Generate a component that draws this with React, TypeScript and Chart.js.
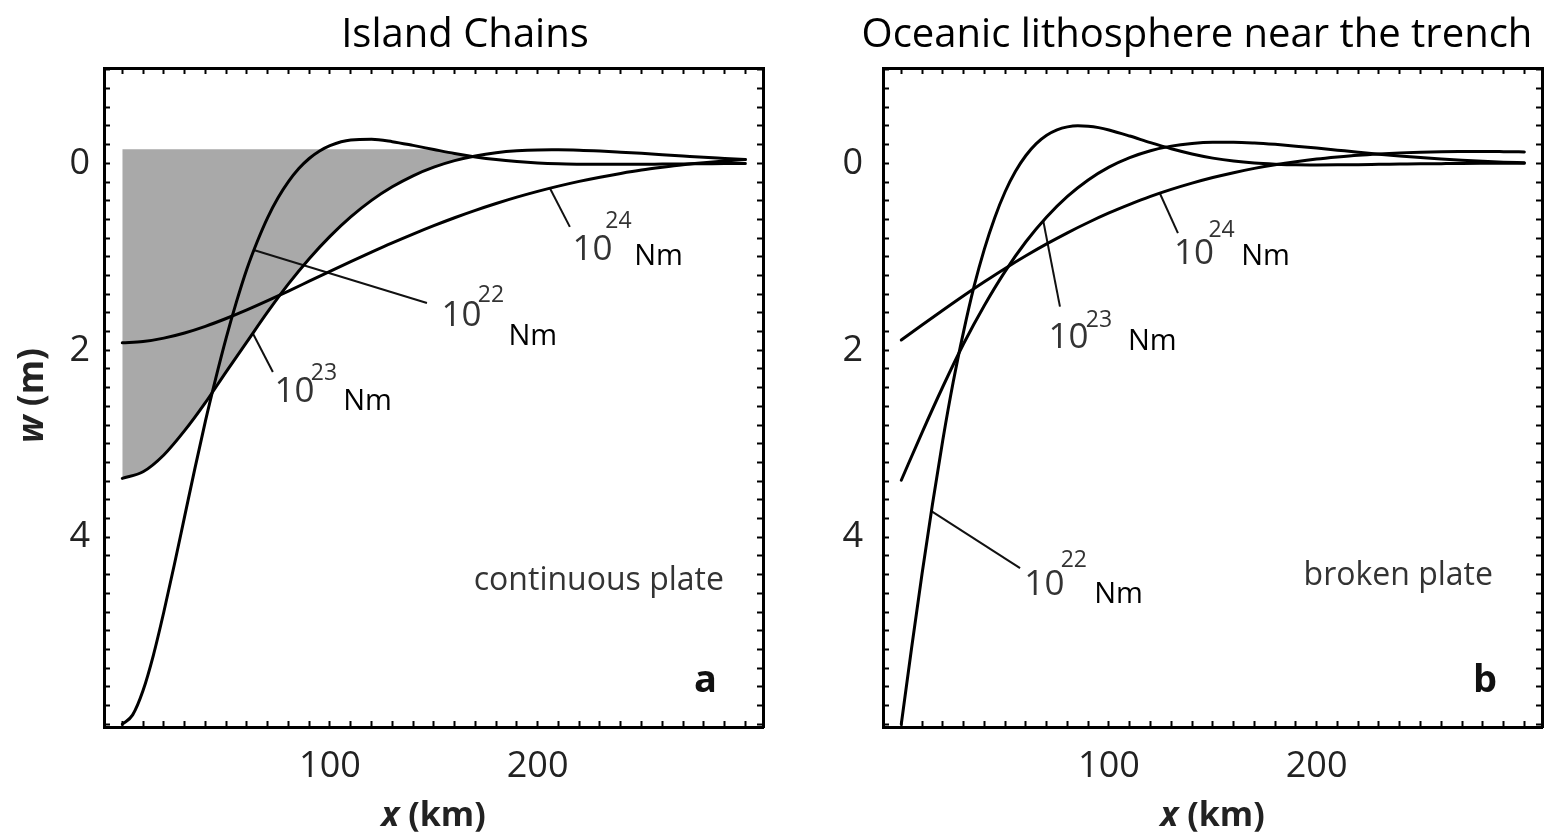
import { useEffect, useRef } from 'react';
import { Chart, registerables } from 'chart.js';

Chart.register(...registerables);

// ---------- data (x in km, w in m, positive downward) ----------
const X_FINE = [0, 5, 10, 15, 20, 25, 30, 35, 40, 45, 50, 55, 60, 65, 70, 75, 80, 85, 90, 95, 100,
  110, 120, 130, 140, 150, 160, 170, 180, 190, 200, 210, 220, 230, 240, 250, 260, 270, 280, 290, 300];
const X_STD = [0, 10, 20, 30, 40, 50, 60, 70, 80, 90, 100, 110, 120, 130, 140, 150, 160, 170, 180, 190,
  200, 210, 220, 230, 240, 250, 260, 270, 280, 290, 300];

// continuous plate (panel a)
const CONT_W22 = [6.0, 5.9, 5.64, 5.26, 4.8, 4.3, 3.78, 3.26, 2.76, 2.3, 1.87, 1.48, 1.13, 0.836, 0.58, 0.369,
  0.196, 0.056, -0.052, -0.132, -0.19, -0.25, -0.257, -0.232, -0.192, -0.148, -0.105, -0.069, -0.04, -0.019,
  -0.004, 0.005, 0.009, 0.011, 0.011, 0.01, 0.008, 0.006, 0.004, 0.002, 0.001];
const CONT_W23 = [3.37, 3.3, 3.12, 2.86, 2.56, 2.23, 1.91, 1.59, 1.29, 1.02, 0.781, 0.573, 0.396, 0.251, 0.133,
  0.041, -0.029, -0.079, -0.114, -0.135, -0.144, -0.145, -0.141, -0.132, -0.12, -0.107, -0.093, -0.079, -0.065,
  -0.053, -0.041];
const CONT_W24 = [1.92, 1.907, 1.87, 1.815, 1.744, 1.66, 1.568, 1.469, 1.366, 1.261, 1.156, 1.052, 0.95, 0.851,
  0.757, 0.667, 0.582, 0.503, 0.43, 0.362, 0.3, 0.244, 0.193, 0.148, 0.108, 0.072, 0.042, 0.015, -0.007, -0.026,
  -0.041];
const SHADE_TOP_X = [0, 150, 155, 160, 165, 168.8];
const SHADE_TOP_W = [-0.15, -0.15, -0.127, -0.105, -0.087, -0.073];

// broken plate (panel b)
const BROKEN_W22 = [6.0, 5.18, 4.39, 3.65, 2.96, 2.34, 1.8, 1.32, 0.917, 0.581, 0.304, 0.085, -0.084, -0.211,
  -0.3, -0.358, -0.39, -0.402, -0.397, -0.382, -0.357, -0.292, -0.221, -0.156, -0.1, -0.056, -0.024, -0.003,
  0.009, 0.016, 0.017, 0.016, 0.014, 0.011, 0.008, 0.005, 0.003, 0.001, 0.0, 0.0, -0.001];
const BROKEN_W23 = [3.39, 2.88, 2.39, 1.93, 1.52, 1.155, 0.839, 0.574, 0.354, 0.178, 0.041, -0.061, -0.135,
  -0.184, -0.212, -0.225, -0.226, -0.218, -0.203, -0.184, -0.163, -0.141, -0.119, -0.098, -0.079, -0.062,
  -0.046, -0.033, -0.022, -0.013, -0.006];
const BROKEN_W24 = [1.89, 1.729, 1.571, 1.416, 1.267, 1.124, 0.989, 0.862, 0.743, 0.633, 0.531, 0.439, 0.354,
  0.279, 0.212, 0.152, 0.1, 0.054, 0.015, -0.018, -0.046, -0.068, -0.087, -0.101, -0.112, -0.119, -0.124,
  -0.126, -0.127, -0.125, -0.122];

// leader lines from curve to label: [x1, w1, x2, w2]
const LEAD_A22 = [63.3, 0.927, 146.7, 1.494];
const LEAD_A23 = [62.9, 1.82, 72.5, 2.232];
const LEAD_A24 = [205.9, 0.267, 215.5, 0.68];
const LEAD_B22 = [14.5, 3.72, 57.2, 4.331];
const LEAD_B23 = [68.4, 0.62, 76.4, 1.533];
const LEAD_B24 = [124.6, 0.325, 133.2, 0.746];

// axes
const X_RANGE = [-8.8, 308.5];
const W_RANGE = [-1.02, 6.03];
const X_TICK_LABELS = [100, 200];
const W_TICK_LABELS = [0, 2, 4];

// label texts: [text, x, w, kind]
const LABELS_A: [string, number, number, string][] = [
  ['10', 226.4, 1.034, 'ten'], ['24', 238.9, 0.692, 'sup'], ['Nm', 258.2, 1.088, 'nm'],
  ['10', 163.3, 1.74, 'ten'], ['22', 177.5, 1.483, 'sup'], ['Nm', 197.7, 1.943, 'nm'],
  ['10', 82.9, 2.553, 'ten'], ['23', 97.1, 2.318, 'sup'], ['Nm', 118.1, 2.638, 'nm'],
];
const LABELS_B: [string, number, number, string][] = [
  ['10', 140.9, 1.077, 'ten'], ['24', 154.2, 0.788, 'sup'], ['Nm', 175.4, 1.088, 'nm'],
  ['10', 80.5, 1.975, 'ten'], ['23', 95.2, 1.75, 'sup'], ['Nm', 120.9, 1.997, 'nm'],
  ['10', 68.9, 4.618, 'ten'], ['22', 83.1, 4.318, 'sup'], ['Nm', 104.6, 4.703, 'nm'],
];

// ---------- styling ----------
const FONT = "'Open Sans', 'Noto Sans', sans-serif";
const CANVAS_W = 775;
const CANVAS_H = 838;

const KIND_STYLE: Record<string, { font: string; color: string }> = {
  ten: { font: `35px ${FONT}`, color: '#333' },
  sup: { font: `23px ${FONT}`, color: '#333' },
  nm: { font: `29px ${FONT}`, color: '#000' },
};

const annotationPlugin = {
  id: 'panelText',
  afterDraw(chart: any, _args: any, opts: any) {
    const { ctx, chartArea, scales } = chart;
    const xs = scales.x;
    const ys = scales.y;
    ctx.save();
    // curve labels
    for (const [text, x, w, kind] of opts.labels as [string, number, number, string][]) {
      const st = KIND_STYLE[kind];
      ctx.font = st.font;
      ctx.fillStyle = st.color;
      ctx.textAlign = 'center';
      ctx.textBaseline = 'alphabetic';
      ctx.fillText(text, xs.getPixelForValue(x), ys.getPixelForValue(w));
    }
    // plate type and panel letter
    ctx.textAlign = 'right';
    ctx.textBaseline = 'alphabetic';
    ctx.font = `32px ${FONT}`;
    ctx.fillStyle = '#333';
    ctx.fillText(opts.plate, xs.getPixelForValue(opts.plateX), ys.getPixelForValue(opts.plateW));
    ctx.font = `bold 38px ${FONT}`;
    ctx.fillStyle = '#111';
    ctx.fillText(opts.letter, xs.getPixelForValue(opts.letterX), ys.getPixelForValue(opts.letterW));
    // title
    ctx.textAlign = 'center';
    ctx.textBaseline = 'middle';
    ctx.font = `40px ${FONT}`;
    ctx.fillStyle = '#000';
    ctx.fillText(opts.title, opts.titleX, opts.titleY);
    // axis titles with italic variable
    const cx = (chartArea.left + chartArea.right) / 2;
    const drawMixed = (a: string, b: string, px: number, py: number, size: number) => {
      ctx.font = `italic bold ${size}px ${FONT}`;
      const wa = ctx.measureText(a).width;
      ctx.font = `bold ${size}px ${FONT}`;
      const wb = ctx.measureText(b).width;
      const start = px - (wa + wb) / 2;
      ctx.textAlign = 'left';
      ctx.textBaseline = 'middle';
      ctx.fillStyle = '#222';
      ctx.font = `italic bold ${size}px ${FONT}`;
      ctx.fillText(a, start, py);
      ctx.font = `bold ${size}px ${FONT}`;
      ctx.fillText(b, start + wa, py);
    };
    drawMixed('x', ' (km)', cx, 816, 34);
    if (opts.yTitle) {
      ctx.save();
      ctx.translate(33, (chartArea.top + chartArea.bottom) / 2 - 2);
      ctx.rotate(-Math.PI / 2);
      drawMixed('w', ' (m)', 0, 0, 35);
      ctx.restore();
    }
    ctx.restore();
  },
};

function curve(xs: number[], ws: number[]) {
  return {
    data: xs.map((x, i) => ({ x, y: ws[i] })),
    borderColor: '#000',
    borderWidth: 3,
    pointRadius: 0,
    fill: false,
    cubicInterpolationMode: 'monotone' as const,
    borderCapStyle: 'round' as const,
    borderJoinStyle: 'round' as const,
    xAxisID: 'x',
    yAxisID: 'y',
  };
}

function leader(seg: number[]) {
  return {
    data: [{ x: seg[0], y: seg[1] }, { x: seg[2], y: seg[3] }],
    borderColor: '#111',
    borderWidth: 2,
    pointRadius: 0,
    fill: false,
    tension: 0,
    xAxisID: 'x',
    yAxisID: 'y',
  };
}

const tickGrid = {
  display: true,
  drawOnChartArea: false,
  drawTicks: true,
  tickLength: -6,
  tickWidth: 2,
  tickColor: '#000',
};
const frame = { display: true, color: '#000', width: 3 };

function scalesFor(leftWidth: number, rightWidth: number, yPad: number) {
  const xTicks = {
    stepSize: 10,
    autoSkip: false,
    includeBounds: false,
    maxRotation: 0,
    minRotation: 0,
  };
  const yTicks = {
    stepSize: 0.2,
    autoSkip: false,
    includeBounds: false,
  };
  return {
    x: {
      type: 'linear', position: 'bottom', min: X_RANGE[0], max: X_RANGE[1],
      afterFit: (s: any) => { s.height = CANVAS_H - 727; },
      ticks: {
        ...xTicks, padding: 24, color: '#222', font: { family: FONT, size: 36 },
        callback: (v: number) => (X_TICK_LABELS.some((t) => Math.abs(t - v) < 1e-6) ? String(Math.round(v)) : ''),
      },
      grid: tickGrid, border: frame,
    },
    xTop: {
      type: 'linear', position: 'top', min: X_RANGE[0], max: X_RANGE[1],
      afterFit: (s: any) => { s.height = 68; },
      ticks: { ...xTicks, display: false },
      grid: tickGrid, border: frame,
    },
    y: {
      type: 'linear', position: 'left', reverse: true, min: W_RANGE[0], max: W_RANGE[1],
      afterFit: (s: any) => { s.width = leftWidth; },
      ticks: {
        ...yTicks, padding: yPad, color: '#222', font: { family: FONT, size: 36 },
        callback: (v: number) => {
          const hit = W_TICK_LABELS.find((t) => Math.abs(t - v) < 1e-6);
          return hit === undefined ? '' : String(hit);
        },
      },
      grid: tickGrid, border: frame,
    },
    yRight: {
      type: 'linear', position: 'right', reverse: true, min: W_RANGE[0], max: W_RANGE[1],
      afterFit: (s: any) => { s.width = rightWidth; },
      ticks: { ...yTicks, display: false },
      grid: tickGrid, border: frame,
    },
  };
}

function buildConfig(panel: 'a' | 'b'): any {
  const isA = panel === 'a';
  const datasets: any[] = isA
    ? [
        curve(X_FINE, CONT_W22),
        curve(X_STD, CONT_W23),
        curve(X_STD, CONT_W24),
        leader(LEAD_A22),
        leader(LEAD_A23),
        leader(LEAD_A24),
        {
          data: SHADE_TOP_X.map((x, i) => ({ x, y: SHADE_TOP_W[i] })),
          borderWidth: 0,
          borderColor: 'rgba(0,0,0,0)',
          backgroundColor: '#a9a9a9',
          pointRadius: 0,
          tension: 0,
          fill: { target: 1, above: '#a9a9a9', below: '#a9a9a9' },
          xAxisID: 'x',
          yAxisID: 'y',
        },
      ]
    : [
        curve(X_FINE, BROKEN_W22),
        curve(X_STD, BROKEN_W23),
        curve(X_STD, BROKEN_W24),
        leader(LEAD_B22),
        leader(LEAD_B23),
        leader(LEAD_B24),
      ];
  return {
    type: 'line',
    data: { datasets },
    options: {
      animation: false,
      responsive: false,
      maintainAspectRatio: false,
      devicePixelRatio: 1,
      events: [],
      layout: { padding: 0 },
      plugins: {
        legend: { display: false },
        tooltip: { enabled: false },
        title: { display: false },
        filler: { propagate: false, drawTime: 'beforeDatasetsDraw' },
        panelText: {
          labels: isA ? LABELS_A : LABELS_B,
          plate: isA ? 'continuous plate' : 'broken plate',
          plateX: isA ? 289.7 : 284.9,
          plateW: isA ? 4.564 : 4.511,
          letter: panel,
          letterX: isA ? 286.3 : 286.8,
          letterW: 5.655,
          title: isA ? 'Island Chains' : 'Oceanic lithosphere near the trench',
          titleX: isA ? 465 : 1197 - CANVAS_W,
          titleY: 36,
          yTitle: isA,
        },
      },
      scales: isA ? scalesFor(104, CANVAS_W - 763, 20) : scalesFor(108, CANVAS_W - 767, 26),
    },
    plugins: [annotationPlugin],
  };
}

function Panel({ panel, left }: { panel: 'a' | 'b'; left: number }) {
  const ref = useRef<HTMLCanvasElement>(null);
  useEffect(() => {
    if (!ref.current) return;
    const chart = new Chart(ref.current, buildConfig(panel));
    return () => chart.destroy();
  }, [panel]);
  return (
    <canvas
      ref={ref}
      width={CANVAS_W}
      height={CANVAS_H}
      style={{ position: 'absolute', left, top: 0, width: CANVAS_W, height: CANVAS_H, display: 'block' }}
    />
  );
}

export default function App() {
  return (
    <div style={{ position: 'absolute', left: 0, top: 0, width: 1550, height: 838, background: '#fff', overflow: 'hidden' }}>
      <Panel panel="a" left={0} />
      <Panel panel="b" left={CANVAS_W} />
    </div>
  );
}
